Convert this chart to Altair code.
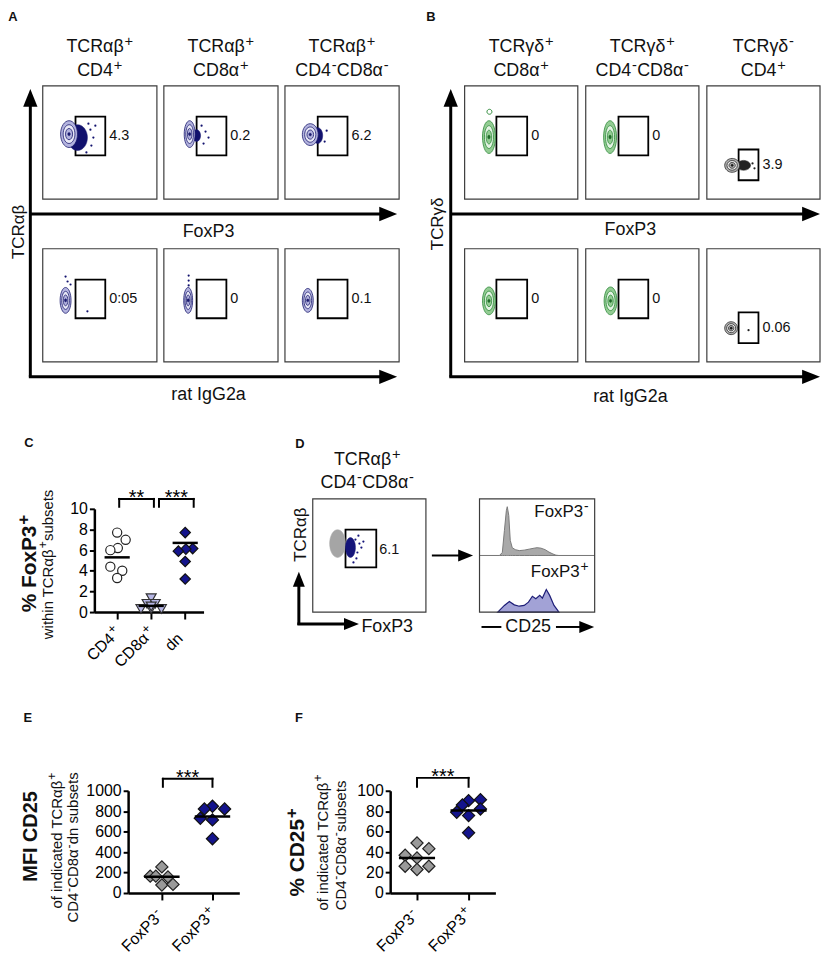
import altair as alt
import pandas as pd

FONT = "Liberation Sans"
W, H = 813, 954
M = 8  # page margin

# ================= values =================
A_TITLES = [["TCRαβ⁺", "CD4⁺"], ["TCRαβ⁺", "CD8α⁺"], ["TCRαβ⁺", "CD4⁻CD8α⁻"]]
A_GATES = [["4.3", "0.2", "6.2"], ["0:05", "0", "0.1"]]
B_TITLES = [["TCRγδ⁺", "CD8α⁺"], ["TCRγδ⁺", "CD4⁻CD8α⁻"], ["TCRγδ⁻", "CD4⁺"]]
B_GATES = [["0", "0", "3.9"], ["0", "0", "0.06"]]
D_GATE = "6.1"

C_GROUPS = ["CD4⁺", "CD8α⁺", "dn"]
C_CD4 = [7.7, 7.0, 6.2, 6.0, 4.4, 4.0, 3.3]
C_CD8 = [1.35, 0.8, 0.8, 0.3, 0.3, 0.3, 0.55]
C_DN = [7.7, 6.15, 6.1, 5.9, 4.9, 3.2]
C_MEAN = [5.3, 0.6, 6.7]
C_SIG = ["**", "***"]

EF_GROUPS = ["FoxP3⁻", "FoxP3⁺"]
E_NEG = [255, 165, 165, 157, 78, 84]
E_POS = [848, 822, 822, 731, 715, 531]
E_MEAN = [158, 748]
F_NEG = [48.9, 43.4, 34.3, 26.2, 23.0, 36.9, 26.2]
F_POS = [90.3, 91.3, 86.1, 82.2, 79.0, 75.7, 58.9]
F_MEAN = [34.3, 80.6]
EF_SIG = "***"

# CD25 histograms (relative fluorescence 0-100, counts normalised to peak = 100)
HIST_NEG_X = [0, 17.2, 19.8, 21.6, 23.3, 24.1, 25.4, 26.7, 28.4, 31, 34.5, 38.8, 43.1,
              47.4, 50, 53.4, 56.9, 60.3, 63.8, 66.4, 69, 100]
HIST_NEG_Y = [0, 0, 6, 51, 92, 100, 82, 31, 16, 12, 10, 11, 13, 15, 16, 15, 12, 7, 3, 0.6, 0, 0]
HIST_POS_X = [15.8, 21.6, 25.9, 30.2, 34.5, 38.8, 42.5, 45.9, 48.9, 52.3, 54.6, 58, 60.9, 64.7, 69]
HIST_POS_Y = [0, 29.5, 47, 32, 26, 29.5, 44, 70, 59, 74, 62, 100, 74, 29.5, 0]

# horizontal spread of the dots within each column (category units)
C_JIT = [[0, 0.25, 0.02, -0.2, -0.2, 0.15, 0],
         [0, -0.12, 0.12, -0.3, 0, 0.3, 0],
         [0, 0.22, 0.02, -0.2, 0, 0]]
E_JIT = [[0, -0.23, -0.12, 0.12, 0, 0.22], [0, -0.16, 0.24, -0.24, 0, 0]]
F_JIT = [[0, 0.23, 0, 0.23, 0, -0.23, -0.23], [0, 0.23, -0.12, 0.23, -0.23, 0, 0]]


# ================= layout helpers =================
def px(x):
    return x - M


def py(y):
    return y - M


rects, rules, heads, ells, dots = [], [], [], [], []
txt_c, txt_l, txt_v, txt_b = [], [], [], []
rich_rows = {(0, False): [], (270, False): [], (270, True): []}

# approximate advance widths (em) of Liberation Sans, used to place superscripts
W_REG = {" ": .278, "%": .889, "a": .556, "b": .556, "c": .5, "d": .556, "e": .556, "f": .278,
         "h": .556, "i": .222, "n": .556, "o": .556, "s": .5, "t": .278, "u": .556, "w": .722,
         "x": .5, "C": .722, "D": .722, "F": .611, "I": .278, "M": .833, "P": .667, "R": .722,
         "T": .611, "α": .578, "β": .575, "γ": .5, "δ": .556, "+": .584, "-": .333}
W_BOLD = {" ": .278, "%": .889, "o": .611, "x": .556, "C": .722, "D": .722, "F": .611,
          "I": .278, "M": .833, "P": .667, "+": .584, "-": .333}
SUP_K, RAISE = 0.82, 0.3


def split_sup(s):
    segs, cur = [], ""
    for ch in s:
        if ch in "⁺⁻":
            if cur:
                segs.append((cur, False))
                cur = ""
            segs.append(("+" if ch == "⁺" else "-", True))
        else:
            cur += ch
    if cur:
        segs.append((cur, False))
    return segs


def rich(s, x, y, fs, angle=0, bold=False, anchor="center"):
    tab = W_BOLD if bold else W_REG
    segs = split_sup(s)
    widths = []
    for t, sup in segs:
        f = fs * SUP_K if sup else fs
        widths.append(sum(tab.get(ch, W_REG.get(ch, .556)) for ch in t) * f + (1.0 if sup else 0))
    total = sum(widths)
    d, r = ((1, 0), (0, -1)) if angle == 0 else ((0, -1), (-1, 0))
    off = {"center": -total / 2, "right": -total, "left": 0}[anchor]
    for (t, sup), w in zip(segs, widths):
        o = off + (0.8 if sup else 0)
        lift = RAISE * fs if sup else 0
        xx = x + d[0] * o + r[0] * lift
        yy = y + d[1] * o + r[1] * lift
        rich_rows[(angle, bold)].append(
            dict(t=t, x=px(xx), y=py(yy), fs=fs * SUP_K if sup else fs))
        off += w


def rect(x0, x1, y0, y1, col, sw):
    rects.append(dict(x=px(x0), x2=px(x1), y=py(y0), y2=py(y1), col=col, sw=sw))


def line(x0, y0, x1, y1, sw=3):
    rules.append(dict(x=px(x0), y=py(y0), x2=px(x1), y2=py(y1), sw=sw))


RIGHT = "M-1,-0.8L1,0L-1,0.8Z"
UP = "M-0.8,1L0,-1L0.8,1Z"


def head(x, y, shape, length):
    heads.append(dict(x=px(x), y=py(y), shape=shape, size=length ** 2))


def ellipse_path(a, b):
    m = max(a, b)
    ax, ay = a / m, b / m
    return (f"M{-ax:.3f},0A{ax:.3f},{ay:.3f} 0 1 0 {ax:.3f},0"
            f"A{ax:.3f},{ay:.3f} 0 1 0 {-ax:.3f},0Z")


PAL = {
    "navy": (["#b3b3de", "#e8e8f6", "#b3b3de"], "#1b1b6e", "#1b1b6e"),
    "green": (["#93cc93", "#e4f3e4", "#93cc93"], "#2e8a3a", "#1e6a28"),
    "grey": (["#b0b0b0", "#ececec", "#b0b0b0"], "#2a2a2a", "#1a1a1a"),
}


def ellipse(cx_, cy_, a, b, fill, stroke, sw):
    m = max(a, b)
    ells.append(dict(x=px(cx_), y=py(cy_), shape=ellipse_path(a, b), size=(2 * m) ** 2,
                     fill=fill, stroke=stroke, sw=sw))


def blob(cx_, cy_, a, b, pal):
    fills, stroke, core = PAL[pal]
    for k, s in enumerate([1.0, 0.7, 0.42]):
        ellipse(cx_, cy_, a * s, b * s, fills[k], stroke, 0.8)
    ellipse(cx_, cy_, max(a * 0.15, 1.2), max(b * 0.12, 1.2), core, core, 0.5)


def text(lst, t, x, y, fs):
    lst.append(dict(t=t, x=px(x), y=py(y), fs=fs))


FRAME = "#3c3c3c"

# ---------------- panels A and B ----------------
A_BX, A_BW = [40, 162, 284], 115
B_BX, B_BW = [465, 587, 709], 114
ROW_Y, BH = [80, 244], 114
A_GATE_REL = [(33, 63, 31, 70)] * 3
B_GATE_REL = [(32, 63, 31, 70), (33, 63, 31, 70), (32, 52, 64, 95)]

# population shapes (relative to the box corner): kind, x, y, half-width, half-height, palette
A_POP = {
    (0, 0): [("solid", 35, 52, 10, 13, "#12126e"), ("blob", 26.5, 48.5, 8.5, 13.5, "navy")],
    (0, 1): [("solid", 33, 50, 4, 6, "#12126e"), ("blob", 26, 48.5, 5.5, 13.5, "navy")],
    (0, 2): [("solid", 33, 50, 5, 8, "#12126e"), ("blob", 25.5, 49, 8, 11, "navy")],
    (1, 0): [("blob", 23, 52, 5.5, 13, "navy")],
    (1, 1): [("blob", 24.5, 52, 4.5, 13, "navy")],
    (1, 2): [("blob", 23, 52, 5.5, 12, "navy")],
}
B_POP = {
    (0, 0): [("blob", 24.5, 51.5, 6.5, 16.5, "green"), ("ring", 25, 26, 2.5, 2.5, "#2e8a3a")],
    (0, 1): [("blob", 24.5, 51.5, 6.5, 16.5, "green")],
    (0, 2): [("solid", 37, 80, 7, 5, "#222222"), ("blob", 25.5, 80, 7.5, 7, "grey")],
    (1, 0): [("blob", 24.5, 52.5, 6.5, 14, "green")],
    (1, 1): [("blob", 25, 52.5, 6.5, 14, "green")],
    (1, 2): [("blob", 24.5, 80, 6.5, 6.5, "grey")],
}
A_DOTS = {(0, 0): [(48, 44), (51, 52), (49, 60), (44, 67), (53, 40), (46, 38)],
          (0, 1): [(42, 46), (45, 52), (40, 58), (38, 40)],
          (0, 2): [(42, 45), (40, 56)],
          (1, 0): [(23, 28), (25, 33), (28, 36), (45, 63)],
          (1, 1): [(25, 27), (25, 32), (25, 37)]}
B_DOTS = {(0, 2): [(46, 78), (48, 83)], (1, 2): [(42, 82)]}


def flow_panel(bx, bw, gates_rel, titles, gate_txt, pops, dotmap, dotcol):
    for r, ry in enumerate(ROW_Y):
        for c, x0 in enumerate(bx):
            rect(x0, x0 + bw, ry, ry + BH, FRAME, 1.2)
            for kind, ex, ey, a, b, pal in pops[(r, c)]:
                if kind == "blob":
                    blob(x0 + ex, ry + ey, a, b, pal)
                elif kind == "solid":
                    ellipse(x0 + ex, ry + ey, a, b, pal, pal, 0.5)
                else:
                    ellipse(x0 + ex, ry + ey, a, b, "transparent", pal, 1)
            for dx, dy in dotmap.get((r, c), []):
                dots.append(dict(x=px(x0 + dx), y=py(ry + dy), col=dotcol))
            g = gates_rel[c]
            rect(x0 + g[0], x0 + g[1], ry + g[2], ry + g[3], "#000", 1.8)
            text(txt_l, gate_txt[r][c], x0 + g[1] + 4, ry + (g[2] + g[3]) / 2, 14.5)
    for c, x0 in enumerate(bx):
        rich(titles[c][0], x0 + bw / 2, 41, 18)
        rich(titles[c][1], x0 + bw / 2, 65, 18)


flow_panel(A_BX, A_BW, A_GATE_REL, A_TITLES, A_GATES, A_POP, A_DOTS, "#12126e")
flow_panel(B_BX, B_BW, B_GATE_REL, B_TITLES, B_GATES, B_POP, B_DOTS, "#222222")

# axes arrows A / B
for ax_x, tip in [(27.5, 397), (451, 823)]:
    line(ax_x, 95, ax_x, 373)
    line(ax_x, 209, tip - 12, 209)
    line(ax_x - 1.5, 373, tip - 12, 373)
    head(ax_x, 92, UP, 18)
    head(tip - 9, 209, RIGHT, 18)
    head(tip - 9, 373, RIGHT, 18)

text(txt_c, "FoxP3", 207, 227, 18)
text(txt_c, "rat IgG2a", 207, 391, 18)
text(txt_c, "FoxP3", 632, 225, 18)
text(txt_c, "rat IgG2a", 632, 393, 18)
text(txt_v, "TCRαβ", 16, 227, 17)
text(txt_v, "TCRγδ", 438, 219, 17)

# ---------------- panel D ----------------
rect(312, 426, 496, 610, FRAME, 1.2)
ellipse(337, 541, 8, 14, "#a5a5a5", "#a5a5a5", 0.5)
ellipse(350, 545, 5, 10, "#15157a", "#15157a", 0.5)
for dx, dy in [(358, 533), (356, 556), (353, 560), (361, 545), (363, 539), (357, 550),
               (355, 537), (359, 541)]:
    dots.append(dict(x=px(dx), y=py(dy), col="#15157a"))
rect(345, 376, 527, 565, "#000", 1.8)
text(txt_l, D_GATE, 379, 547, 14.5)
rich("TCRαβ⁺", 367, 457, 18)
rich("CD4⁻CD8α⁻", 367, 480, 18)
line(298, 623, 298, 582)
line(296.5, 622, 348, 622)
head(298, 577, UP, 15)
head(351, 622, RIGHT, 15)
text(txt_v, "TCRαβ", 300, 532, 17)
text(txt_l, "FoxP3", 361, 625, 18)
line(432, 553, 462, 553, 2)
head(466, 553, RIGHT, 15)
rect(480, 596, 496, 610, FRAME, 1.2)
rich("FoxP3⁻", 590, 509, 17, anchor="right")
rich("FoxP3⁺", 590, 570, 17, anchor="right")
line(482, 625, 502, 625, 2)
line(557, 625, 584, 625, 2)
head(588, 625, RIGHT, 15)
text(txt_c, "CD25", 529, 625, 18)

# ---------------- titles for C / E / F ----------------
rich("% FoxP3⁺", 27, 561, 21, angle=270, bold=True)
rich("within TCRαβ⁺subsets", 45, 562, 15, angle=270)
rich("MFI CD25", 28, 836, 20, angle=270, bold=True)
rich("of indicated TCRαβ⁺", 54, 840, 15, angle=270)
rich("CD4⁻CD8α⁻ dn subsets", 71, 845, 15, angle=270)
rich("% CD25⁺", 297, 852, 21, angle=270, bold=True)
rich("of indicated TCRαβ⁺", 322, 842, 15, angle=270)
rich("CD4⁻CD8α⁻ subsets", 340, 843, 15, angle=270)

for lab, x, y in [("A", 10, 11), ("B", 431, 11), ("C", 26, 440), ("D", 299, 441),
                  ("E", 25, 717), ("F", 298, 717)]:
    text(txt_b, lab, x, y, 13)


# ================= building the layers =================
def XY():
    return dict(x=alt.X("x:Q", scale=None), y=alt.Y("y:Q", scale=None))


rect_layer = alt.Chart(pd.DataFrame(rects)).mark_rect(fill="transparent").encode(
    x=alt.X("x:Q", scale=None), x2="x2:Q", y=alt.Y("y:Q", scale=None), y2="y2:Q",
    stroke=alt.Stroke("col:N", scale=None), strokeWidth=alt.StrokeWidth("sw:Q", scale=None))

rule_layer = alt.Chart(pd.DataFrame(rules)).mark_rule(color="#000", strokeCap="butt").encode(
    x=alt.X("x:Q", scale=None), x2="x2:Q", y=alt.Y("y:Q", scale=None), y2="y2:Q",
    strokeWidth=alt.StrokeWidth("sw:Q", scale=None))

head_layer = alt.Chart(pd.DataFrame(heads)).mark_point(
    filled=True, opacity=1, color="#000", strokeWidth=0).encode(
    **XY(), shape=alt.Shape("shape:N", scale=None), size=alt.Size("size:Q", scale=None))

ell_layer = alt.Chart(pd.DataFrame(ells)).mark_point(opacity=1).encode(
    **XY(), shape=alt.Shape("shape:N", scale=None), size=alt.Size("size:Q", scale=None),
    fill=alt.Fill("fill:N", scale=None), stroke=alt.Stroke("stroke:N", scale=None),
    strokeWidth=alt.StrokeWidth("sw:Q", scale=None))

dot_layer = alt.Chart(pd.DataFrame(dots)).mark_circle(opacity=1, size=5).encode(
    **XY(), color=alt.Color("col:N", scale=None))


def text_layer(rows, align="center", angle=0, weight="normal"):
    kw = dict(font=FONT, align=align, baseline="middle", fontWeight=weight, color="#111")
    if angle:
        kw["angle"] = angle
    return alt.Chart(pd.DataFrame(rows)).mark_text(**kw).encode(
        **XY(), text="t:N", size=alt.Size("fs:Q", scale=None))


page_layers = [
    rect_layer, ell_layer, dot_layer, rule_layer, head_layer,
    text_layer(txt_c), text_layer(txt_l, align="left"),
    text_layer(txt_v, angle=270), text_layer(txt_b, weight="bold"),
    text_layer(rich_rows[(0, False)], align="left"),
    text_layer(rich_rows[(270, False)], align="left", angle=270),
    text_layer(rich_rows[(270, True)], align="left", angle=270, weight="bold"),
]


def yaxis(x_page, values):
    return alt.Axis(orient="left", offset=-px(x_page), values=values, title=None, grid=False,
                    format="d", domainColor="#000", domainWidth=2.5, tickColor="#000",
                    tickWidth=2, tickSize=5, labelFont=FONT, labelFontSize=16,
                    labelColor="#000", labelPadding=2, labelOverlap=False)


def xaxis(y_page, n):
    return alt.Axis(orient="bottom", offset=py(y_page) - H, values=list(range(n)),
                    labels=False, title=None, grid=False, domainColor="#000",
                    domainWidth=2.5, tickColor="#000", tickWidth=2, tickSize=7)


def scatter_layers(labels, series, jits, means, styles, xs, ys, axis_y, yvals, brackets, half):
    rows = []
    for i, (vals, jit, st) in enumerate(zip(series, jits, styles)):
        for v, j in zip(vals, jit):
            rows.append(dict(x=i + j, v=v, shape=st[0], fill=st[1], stroke=st[2], size=st[3]))
    pts = alt.Chart(pd.DataFrame(rows)).mark_point(opacity=1, strokeWidth=1.2).encode(
        x=alt.X("x:Q", scale=xs, axis=xaxis(axis_y, len(labels))),
        y=alt.Y("v:Q", scale=ys, axis=yaxis(xs_page0[id(xs)], yvals)),
        shape=alt.Shape("shape:N", scale=None), fill=alt.Fill("fill:N", scale=None),
        stroke=alt.Stroke("stroke:N", scale=None), size=alt.Size("size:Q", scale=None))
    mdf = pd.DataFrame(dict(x0=[i - half for i in range(len(means))],
                            x1=[i + half for i in range(len(means))], v=means))
    mean = alt.Chart(mdf).mark_rule(color="#000", strokeWidth=2.5).encode(
        x=alt.X("x0:Q", scale=xs, axis=None), x2="x1:Q", y=alt.Y("v:Q", scale=ys, axis=None))
    segs, stars = [], []
    for lab, a, b, top, leg in brackets:
        segs += [dict(xa=a, xb=b, ya=top, yb=top), dict(xa=a, xb=a, ya=top, yb=leg),
                 dict(xa=b, xb=b, ya=top, yb=leg)]
        stars.append(dict(t=lab, x=(a + b) / 2, v=top))
    br = alt.Chart(pd.DataFrame(segs)).mark_rule(color="#000", strokeWidth=2,
                                                 strokeCap="square").encode(
        x=alt.X("xa:Q", scale=xs, axis=None), x2="xb:Q",
        y=alt.Y("ya:Q", scale=ys, axis=None), y2="yb:Q")
    st = alt.Chart(pd.DataFrame(stars)).mark_text(
        font=FONT, fontSize=20, baseline="alphabetic", dy=5, color="#000").encode(
        x=alt.X("x:Q", scale=xs, axis=None), y=alt.Y("v:Q", scale=ys, axis=None), text="t:N")
    # rotated category labels (base text + raised superscript)
    lab_rows = []
    for i, lab in enumerate(labels):
        segs_ = split_sup(lab)
        base = "".join(t for t, s in segs_ if not s)
        sup = "".join(t for t, s in segs_ if s)
        lab_rows.append(dict(x=i, base=base, sup=sup))
    ldf = pd.DataFrame(lab_rows)
    base_l = alt.Chart(ldf).mark_text(
        font=FONT, fontSize=16, angle=315, align="right", baseline="middle",
        dx=-20.5, dy=13.4, color="#000").encode(
        x=alt.X("x:Q", scale=xs, axis=None), y=alt.value(py(axis_y)), text="base:N")
    sup_l = alt.Chart(ldf).mark_text(
        font=FONT, fontSize=13, angle=315, align="left", baseline="middle",
        dx=-19.5, dy=8.6, color="#000").encode(
        x=alt.X("x:Q", scale=xs, axis=None), y=alt.value(py(axis_y)), text="sup:N")
    return [br, pts, mean, st, base_l, sup_l]


xs_page0 = {}


def lin(domain, r0, r1):
    return alt.Scale(domain=domain, range=[r0, r1], nice=False, zero=False)


def xlin(domain, x0_page, x1_page):
    s = lin(domain, px(x0_page), px(x1_page))
    xs_page0[id(s)] = x0_page
    return s


c_layers = scatter_layers(
    C_GROUPS, [C_CD4, C_CD8, C_DN], C_JIT, C_MEAN,
    [("circle", "#ffffff", "#222222", 86), ("triangle-down", "#b7b7e6", "#333333", 100),
     ("diamond", "#14148c", "#111111", 110)],
    xlin([-0.67, 2.54], 92, 202), lin([0, 10], py(610), py(506)),
    610, [0, 2, 4, 6, 8, 10],
    [(C_SIG[0], 0.06, 1.08, 10.96, 10.2), (C_SIG[1], 1.23, 2.25, 10.96, 10.2)], 0.37)

EF_STY = [("diamond", "#9a9a9a", "#222222", 150), ("diamond", "#14148c", "#111111", 150)]
e_layers = scatter_layers(
    EF_GROUPS, [E_NEG, E_POS], E_JIT, E_MEAN, EF_STY,
    xlin([-0.667, 1.53], 126, 238), lin([0, 1000], py(893), py(790)),
    893, [0, 200, 400, 600, 800, 1000],
    [(EF_SIG, 0.02, 1.0, 1117, 1039)], 0.35)

f_layers = scatter_layers(
    EF_GROUPS, [F_NEG, F_POS], F_JIT, F_MEAN, EF_STY,
    xlin([-0.52, 1.52], 390, 496), lin([0, 100], py(893), py(790)),
    893, [0, 20, 40, 60, 80, 100],
    [(EF_SIG, 0.0, 1.0, 112.6, 103.9)], 0.35)

hx = lin([0, 100], px(480), px(596))
h_neg = alt.Chart(pd.DataFrame(dict(x=HIST_NEG_X, y=HIST_NEG_Y))).mark_area(
    fill="#a9a9a9", stroke="#7a7a7a", strokeWidth=1, opacity=1).encode(
    x=alt.X("x:Q", scale=hx, axis=None),
    y=alt.Y("y:Q", scale=lin([0, 116], py(553), py(496)), axis=None))
h_pos = alt.Chart(pd.DataFrame(dict(x=HIST_POS_X, y=HIST_POS_Y))).mark_area(
    fill="#a2a2d6", stroke="#1e1e78", strokeWidth=1.2, opacity=1).encode(
    x=alt.X("x:Q", scale=hx, axis=None),
    y=alt.Y("y:Q", scale=lin([0, 251], py(610), py(553)), axis=None))

chart = alt.layer(h_neg, h_pos, *page_layers, *c_layers, *e_layers, *f_layers).resolve_scale(
    x="independent", y="independent"
).properties(width=W, height=H, padding=0, background="white").configure_view(stroke=None)

chart.save("out.html", embed_options={"renderer": "svg", "actions": False})
